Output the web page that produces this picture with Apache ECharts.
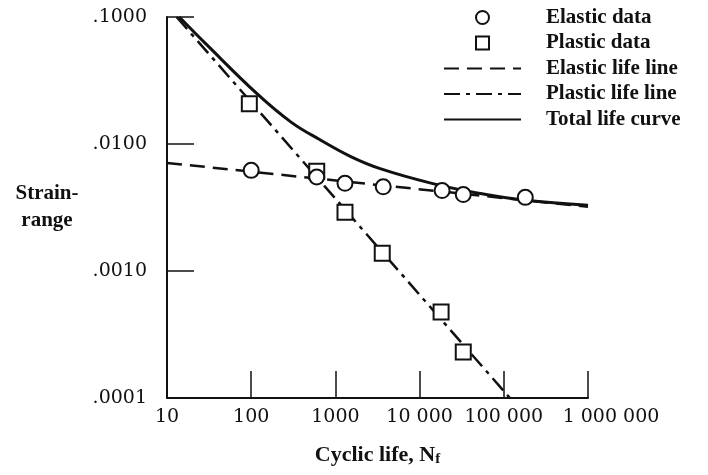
<!DOCTYPE html>
<html>
<head>
<meta charset="utf-8">
<script src="https://cdn.jsdelivr.net/npm/echarts@6/dist/echarts.min.js"></script>
<style>
  html, body { margin: 0; padding: 0; background: #fff; }
  #chart { width: 708px; height: 475px; }
</style>
</head>
<body>
<div id="chart"></div>
<script>
// cycles to failure vs strain range
var elasticN = [100, 600, 1300, 3700, 18500, 33000, 180000];
var elasticStrain = [0.0062, 0.0055, 0.0049, 0.0046, 0.0043, 0.0040, 0.0038];
var plasticN = [95, 600, 1300, 3600, 18000, 33000];
var plasticStrain = [0.0207, 0.0061, 0.0029, 0.00138, 0.000475, 0.00023];

var elasticLineN = [10, 1000000];
var elasticLineStrain = [0.0071, 0.0032];
var plasticLineN = [13, 118000];
var plasticLineStrain = [0.1, 0.0001];
var totalN = [14, 30, 117, 300, 656, 1500, 3400, 14000, 50000, 180000, 1000000];
var totalStrain = [0.1, 0.06, 0.0249, 0.0148, 0.0108, 0.0080, 0.0064, 0.0049, 0.0041, 0.0036, 0.0033];

var xTickValues = [10, 100, 1000, 10000, 100000, 1000000];
var xTickLabels = ['10', '100', '1000', '10 000', '100 000', '1 000 000'];
var yTickValues = [0.0001, 0.001, 0.01, 0.1];
var yTickLabels = ['.0001', '.0010', '.0100', '.1000'];

function pairs(xs, ys) {
  return xs.map(function (x, i) { return [x, ys[i]]; });
}
function tickIndex(values, v) {
  for (var i = 0; i < values.length; i++) {
    if (Math.abs(Math.log10(v) - Math.log10(values[i])) < 1e-6) return i;
  }
  return -1;
}

var ink = '#111';
var serif = 'DejaVu Serif';
var times = 'Liberation Serif';
var noDot = { color: 'rgba(0,0,0,0)', borderWidth: 0 };

var myChart = echarts.init(document.getElementById('chart'));
myChart.setOption({
  backgroundColor: '#fff',
  animation: false,
  grid: { left: 167, right: 120, top: 17, bottom: 77 },
  legend: {
    orient: 'vertical',
    left: 443,
    top: 7,
    padding: 0,
    itemWidth: 77,
    itemHeight: 13,
    itemGap: 4.5,
    textStyle: { fontFamily: times, fontSize: 21, fontWeight: 'bold', color: ink, lineHeight: 21, padding: [0, 0, 0, 20] },
    data: ['Elastic data', 'Plastic data', 'Elastic life line', 'Plastic life line', 'Total life curve']
  },
  xAxis: {
    type: 'log',
    logBase: 10,
    min: 10,
    max: 1000000,
    name: '{a|Cyclic life, N}{s|f}',
    nameLocation: 'middle',
    nameGap: 45,
    nameTextStyle: {
      rich: {
        a: { fontFamily: times, fontSize: 22, fontWeight: 'bold', color: ink },
        s: { fontFamily: times, fontSize: 15, fontWeight: 'bold', color: ink, verticalAlign: 'bottom', padding: [9, 0, 0, 0] }
      }
    },
    axisLine: { lineStyle: { color: ink, width: 2 } },
    axisTick: { inside: true, length: 27, lineStyle: { color: ink, width: 1.5 } },
    axisLabel: {
      margin: 10,
      fontFamily: serif,
      fontSize: 19,
      color: ink,
      formatter: function (v) {
        var i = tickIndex(xTickValues, v);
        if (i < 0) return '';
        // the last label sits to the right of its tick in the original
        return i === xTickValues.length - 1 ? '{last|' + xTickLabels[i] + '}' : xTickLabels[i];
      },
      rich: { last: { fontFamily: serif, fontSize: 19, color: ink, padding: [0, 0, 0, 46] } }
    },
    splitLine: { show: false },
    minorTick: { show: false }
  },
  yAxis: {
    type: 'log',
    logBase: 10,
    min: 0.0001,
    max: 0.1,
    name: 'Strain-\nrange',
    nameLocation: 'middle',
    nameRotate: 0,
    nameGap: 120,
    nameTextStyle: { fontFamily: times, fontSize: 21, fontWeight: 'bold', color: ink, align: 'center', lineHeight: 27 },
    axisLine: { show: true, lineStyle: { color: ink, width: 2 } },
    axisTick: { show: true, inside: true, length: 27, lineStyle: { color: ink, width: 1.5 } },
    axisLabel: {
      margin: 20,
      fontFamily: serif,
      fontSize: 19,
      color: ink,
      formatter: function (v) {
        var i = tickIndex(yTickValues, v);
        return i < 0 ? '' : yTickLabels[i];
      }
    },
    splitLine: { show: false },
    minorTick: { show: false }
  },
  series: [
    {
      name: 'Elastic life line',
      type: 'line',
      data: pairs(elasticLineN, elasticLineStrain),
      symbol: 'none',
      itemStyle: noDot,
      lineStyle: { color: ink, width: 2.5, type: [15, 8] },
      z: 2
    },
    {
      name: 'Plastic life line',
      type: 'line',
      data: pairs(plasticLineN, plasticLineStrain),
      symbol: 'none',
      itemStyle: noDot,
      lineStyle: { color: ink, width: 2.5, type: [16, 6, 4, 6] },
      z: 2
    },
    {
      name: 'Total life curve',
      type: 'line',
      data: pairs(totalN, totalStrain),
      symbol: 'none',
      smooth: 0.4,
      itemStyle: noDot,
      lineStyle: { color: ink, width: 3 },
      z: 2
    },
    {
      name: 'Plastic data',
      type: 'scatter',
      data: pairs(plasticN, plasticStrain),
      symbol: 'path://M0,0H10V10H0Z',
      symbolSize: 15,
      itemStyle: { color: '#fff', borderColor: ink, borderWidth: 2, opacity: 1 },
      z: 3
    },
    {
      name: 'Elastic data',
      type: 'scatter',
      data: pairs(elasticN, elasticStrain),
      symbol: 'circle',
      symbolSize: 15,
      itemStyle: { color: '#fff', borderColor: ink, borderWidth: 2, opacity: 1 },
      z: 4
    }
  ]
});
</script>
</body>
</html>
